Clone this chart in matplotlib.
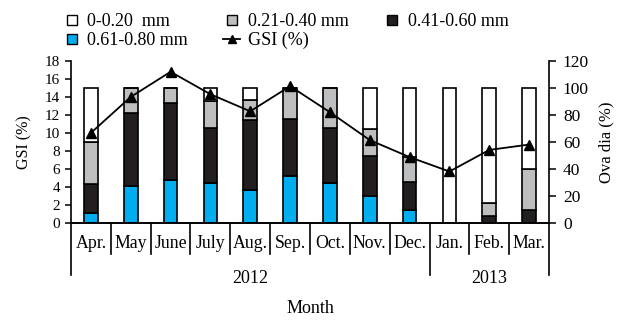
import matplotlib.pyplot as plt
from matplotlib.lines import Line2D
import matplotlib.transforms as mtransforms

plt.rcParams['font.family'] = ['Liberation Serif', 'DejaVu Serif']
plt.rcParams['font.size'] = 12

months = ['Apr.', 'May', 'June', 'July', 'Aug.', 'Sep.', 'Oct.', 'Nov.', 'Dec.', 'Jan.', 'Feb.', 'Mar.']
years = ['2012', '2013']
year_spans = [(0, 8), (9, 11)]

# ova diameter classes, % of ova (stacked, bottom to top)
d_061_080 = [7.5, 27.6, 31.6, 29.6, 24.1, 34.6, 29.6, 19.9, 9.7, 0, 0, 0]
d_041_060 = [21.0, 53.7, 57.2, 40.5, 52.2, 42.3, 40.5, 29.6, 20.4, 0, 5.2, 9.7]
d_021_040 = [31.7, 18.7, 11.2, 19.9, 14.5, 23.1, 29.9, 20.4, 18.9, 0, 9.7, 30.1]
d_000_020 = [39.8, 0, 0, 10.0, 9.2, 0, 0, 30.1, 51.0, 100, 85.1, 60.2]

gsi = [10.0, 14.0, 16.8, 14.3, 12.4, 15.2, 12.3, 9.2, 7.3, 5.7, 8.1, 8.7]

c_white = 'white'
c_gray = '#bcbec0'
c_black = '#231f20'
c_blue = '#00aeef'

fig = plt.figure(figsize=(6.17, 3.2), dpi=100)
ax = fig.add_axes([71 / 617, 1 - 222.7 / 320, 478 / 617, 161.7 / 320])
ax2 = ax.twinx()

x = list(range(len(months)))
w = 0.34
ekw = dict(edgecolor='black', linewidth=1.2, width=w)
bottom = [0] * len(x)
for vals, col in [(d_061_080, c_blue), (d_041_060, c_black),
                  (d_021_040, c_gray), (d_000_020, c_white)]:
    ax2.bar(x, vals, bottom=bottom, color=col, **ekw)
    bottom = [b + v for b, v in zip(bottom, vals)]

ax.plot(x, gsi, color='black', marker='^', markersize=7.5, linewidth=1.3)
ax.set_zorder(ax2.get_zorder() + 1)
ax.patch.set_visible(False)

ax.set_xlim(-0.5, len(x) - 0.5)
ax.set_ylim(0, 18)
ax2.set_ylim(0, 120)
ax.set_yticks(range(0, 19, 2))
ax2.set_yticks(range(0, 121, 20))
ax.set_ylabel('GSI (%)', fontsize=11.5, labelpad=9)
ax2.set_ylabel('Ova dia (%)', fontsize=12, labelpad=7)

for a in (ax, ax2):
    a.spines['top'].set_visible(False)
    for s in a.spines.values():
        s.set_linewidth(1.2)
ax.spines['right'].set_visible(False)
ax2.spines['left'].set_visible(False)
ax.tick_params(axis='y', direction='out', length=4, width=1.1, pad=4, labelsize=11)
ax2.tick_params(axis='y', direction='out', length=5, width=1.1, pad=5, labelsize=12.5)

ax.set_xticks([])
ax2.set_xticks([])

trans = mtransforms.blended_transform_factory(ax.transData, ax.transAxes)
for i in range(len(x) + 1):
    xb = i - 0.5
    long_line = xb in (-0.5, 8.5, len(x) - 0.5)
    y_end = -0.323 if long_line else -0.194
    ax.plot([xb, xb], [0, y_end], color='black', linewidth=1.2,
            transform=trans, clip_on=False)
for i, m in enumerate(months):
    ax.text(i, -0.126, m, ha='center', va='center', fontsize=12.8, transform=trans)
for yr, (a0, a1) in zip(years, year_spans):
    ax.text((a0 + a1) / 2, -0.342, yr, ha='center', va='center', fontsize=13, transform=trans)
ax.text(0.5, -0.528, 'Month', ha='center', va='center', fontsize=13, transform=ax.transAxes)


def box(col, lab):
    return Line2D([], [], linestyle='none', marker='s', markersize=6.5,
                  markerfacecolor=col, markeredgecolor='black', markeredgewidth=1.0, label=lab)


handles = [
    box(c_white, '0-0.20  mm'),
    box(c_blue, '0.61-0.80 mm'),
    box(c_gray, '0.21-0.40 mm'),
    Line2D([], [], color='black', marker='^', markersize=6, linewidth=1.3, label='GSI (%)'),
    box(c_black, '0.41-0.60 mm'),
]
fig.legend(handles=handles, ncol=3, loc='upper left', bbox_to_anchor=(63 / 617, 1 - 13 / 320),
           frameon=False, fontsize=13, handlelength=0.95, handletextpad=0.4,
           columnspacing=1.95, labelspacing=0.12, borderpad=0, borderaxespad=0)

fig.savefig('out.png', dpi=100)
